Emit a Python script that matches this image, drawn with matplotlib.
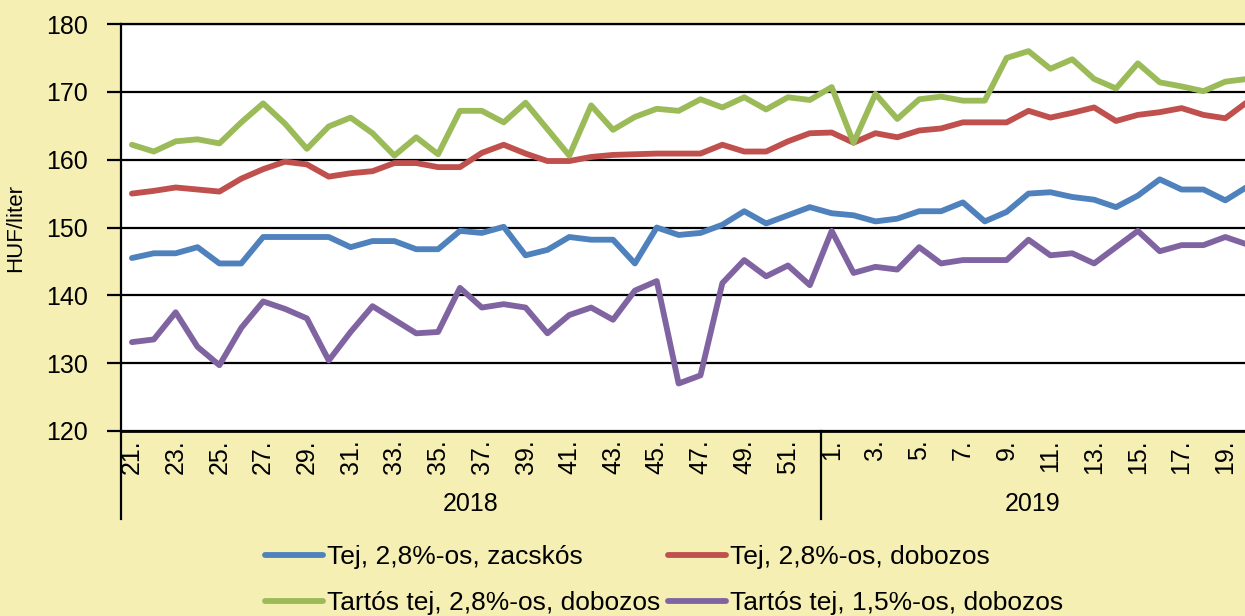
import numpy as np
import matplotlib
matplotlib.use("Agg")
import matplotlib.pyplot as plt
import matplotlib.transforms as mtransforms

plt.rcParams['font.family'] = ['Liberation Sans', 'DejaVu Sans']

# weeks: 2018 week 21..52, 2019 week 1..20
weeks_2018 = list(range(21, 53))
weeks_2019 = list(range(1, 21))
week_labels = [str(w) + "." for w in weeks_2018 + weeks_2019]
years = ["2018", "2019"]

# HUF/liter
tej_zacskos = [145.5, 146.2, 146.2, 147.1, 144.7, 144.7, 148.6, 148.6, 148.6, 148.6,
               147.1, 148.0, 148.0, 146.8, 146.8, 149.5, 149.2, 150.1, 145.9, 146.7,
               148.6, 148.2, 148.2, 144.7, 150.0, 148.9, 149.2, 150.4, 152.4, 150.6,
               151.8, 153.0, 152.1, 151.8, 150.9, 151.3, 152.4, 152.4, 153.7, 150.9,
               152.3, 155.0, 155.2, 154.5, 154.1, 153.0, 154.7, 157.1, 155.6, 155.6,
               154.0, 156.0]
tej_dobozos = [155.0, 155.4, 155.9, 155.6, 155.3, 157.2, 158.6, 159.7, 159.3, 157.5,
               158.0, 158.3, 159.5, 159.5, 158.9, 158.9, 161.0, 162.2, 160.9, 159.8,
               159.8, 160.4, 160.7, 160.8, 160.9, 160.9, 160.9, 162.2, 161.2, 161.2,
               162.7, 163.9, 164.0, 162.5, 163.9, 163.3, 164.3, 164.6, 165.5, 165.5,
               165.5, 167.2, 166.2, 166.9, 167.7, 165.7, 166.6, 167.0, 167.6, 166.6,
               166.1, 168.5]
tartos_28 = [162.2, 161.2, 162.7, 163.0, 162.4, 165.5, 168.3, 165.3, 161.6, 164.9,
             166.2, 163.9, 160.6, 163.3, 160.8, 167.2, 167.2, 165.5, 168.4, 164.5,
             160.6, 168.0, 164.4, 166.3, 167.5, 167.2, 168.9, 167.7, 169.2, 167.4,
             169.2, 168.8, 170.7, 162.5, 169.7, 166.0, 168.9, 169.3, 168.7, 168.7,
             175.0, 176.0, 173.4, 174.8, 171.9, 170.5, 174.2, 171.4, 170.8, 170.1,
             171.5, 171.9]
tartos_15 = [133.1, 133.5, 137.5, 132.4, 129.7, 135.2, 139.1, 138.0, 136.6, 130.4,
             134.6, 138.4, 136.4, 134.4, 134.6, 141.1, 138.2, 138.7, 138.2, 134.4,
             137.1, 138.2, 136.4, 140.7, 142.1, 127.0, 128.2, 141.8, 145.2, 142.8,
             144.4, 141.5, 149.5, 143.3, 144.2, 143.8, 147.1, 144.7, 145.2, 145.2,
             145.2, 148.2, 145.9, 146.2, 144.7, 147.1, 149.5, 146.5, 147.4, 147.4,
             148.6, 147.5]

series = [
    ("Tej, 2,8%-os, zacskós", tej_zacskos, "#4F81BD"),
    ("Tej, 2,8%-os, dobozos", tej_dobozos, "#C0504D"),
    ("Tartós tej, 2,8%-os, dobozos", tartos_28, "#9BBB59"),
    ("Tartós tej, 1,5%-os, dobozos", tartos_15, "#8064A2"),
]

bg = "#F5EFB4"
fig = plt.figure(figsize=(12.45, 6.16), dpi=100, facecolor=bg)
ax = fig.add_axes([121 / 1245, 185 / 616, 1 - 121 / 1245, 407 / 616])
ax.set_facecolor("white")

x = np.arange(len(week_labels))
lines = []
for name, vals, col in series:
    ln, = ax.plot(x, vals, color=col, lw=4.2, label=name, solid_capstyle="round")
    lines.append(ln)

ax.set_ylim(120, 180)
ax.set_yticks(np.arange(120, 181, 10))
ax.set_xlim(-0.5, 50.9)
ax.yaxis.grid(True, color="black", lw=1.6)
ax.set_axisbelow(True)
ax.spines["right"].set_visible(False)
ax.spines["top"].set_linewidth(1.6)
ax.spines["left"].set_linewidth(1.6)
ax.spines["bottom"].set_linewidth(2)

ax.set_xticks(x[::2])
ax.set_xticklabels(week_labels[::2], rotation=90, va="top", ha="center")
ax.tick_params(axis="x", length=0, pad=6, labelsize=18)
ax.tick_params(axis="y", length=10, width=1.6, pad=14, labelsize=18)
ax.set_ylabel("HUF/liter", fontsize=16, labelpad=14)

# year groups below the week labels
trans = mtransforms.blended_transform_factory(ax.transData, ax.transAxes)
n18 = len(weeks_2018)
for xs in [-0.5, n18 - 0.5]:
    ax.plot([xs, xs], [0, -0.216], color="black", lw=1.6, transform=trans, clip_on=False)
ax.text((n18 - 1) / 2, -0.18, years[0], transform=trans, ha="center", va="center", fontsize=18)
ax.text((n18 - 0.5 + 50.9) / 2, -0.18, years[1], transform=trans, ha="center", va="center", fontsize=18)

# legend filled row by row: blue, red / green, purple
order = [0, 2, 1, 3]
fig.legend([lines[i] for i in order], [series[i][0] for i in order],
           loc="upper left", bbox_to_anchor=(265 / 1245, 1 - 545 / 616), ncol=2,
           frameon=False, fontsize=19, handlelength=2.2, handletextpad=0.15,
           columnspacing=0.3, labelspacing=0.85, borderpad=0, borderaxespad=0)

plt.savefig("out.png", dpi=100, facecolor=bg)
